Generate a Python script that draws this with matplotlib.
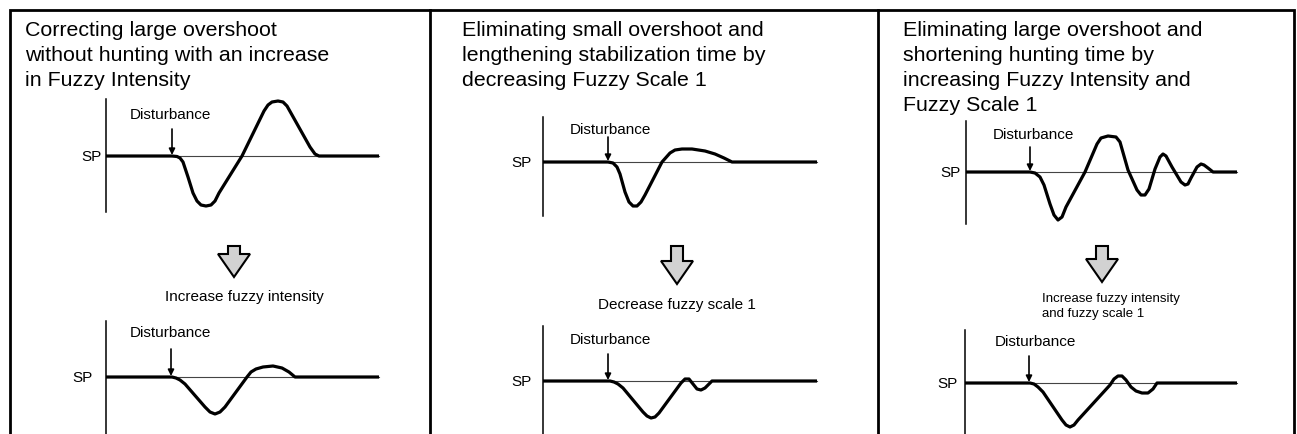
import matplotlib
matplotlib.use('Agg')
import matplotlib.pyplot as plt
from matplotlib.patches import Polygon

plt.rcParams['font.family'] = ['Liberation Sans', 'DejaVu Sans']

# panel headings
titles = [
    ['Correcting large overshoot', 'without hunting with an increase', 'in Fuzzy Intensity'],
    ['Eliminating small overshoot and', 'lengthening stabilization time by', 'decreasing Fuzzy Scale 1'],
    ['Eliminating large overshoot and', 'shortening hunting time by', 'increasing Fuzzy Intensity and', 'Fuzzy Scale 1'],
]
actions = [['Increase fuzzy intensity'], ['Decrease fuzzy scale 1'],
           ['Increase fuzzy intensity', 'and fuzzy scale 1']]

# response curves: time offset from axis (px) and deviation from SP (px, up = +)
p1_before_t = [0, 66, 71, 74, 77, 82, 87, 91, 95, 100, 105, 109, 113, 136, 158, 162, 166, 172, 177, 181, 204, 209, 213, 273]
p1_before_v = [0, 0, -0.5, -2, -6, -21, -37, -45, -49, -50, -49, -45, -37, 0, 45, 51, 54, 55, 54, 50, 9, 2, 0, 0]
p1_after_t = [0, 66, 70, 74, 79, 99, 104, 109, 114, 119, 141, 145, 150, 157, 167, 176, 183, 189, 273]
p1_after_v = [0, 0, -1, -3, -7, -30, -35, -37, -35, -30, 0, 5, 8, 10, 11, 9, 5, 0, 0]

p2_before_t = [0, 65, 70, 74, 77, 82, 86, 90, 94, 98, 102, 119, 127, 132, 139, 149, 162, 172, 181, 189, 274]
p2_before_v = [0, 0, -1, -5, -12, -30, -40, -44, -44, -40, -33, 0, 9, 12, 13, 13, 11, 8, 4, 0, 0]
p2_after_t = [0, 67, 71, 75, 80, 100, 104, 108, 112, 116, 138, 142, 146, 150, 154, 158, 162, 166, 169, 274]
p2_after_v = [0, 0, -1, -3, -7, -31, -35, -37, -36, -32, -2, 2, 2, -3, -8, -9, -7, -3, 0, 0]

p3_before_t = [0, 64, 69, 74, 78, 84, 88, 92, 96, 100, 119, 131, 135, 142, 150, 154, 162, 171, 175, 179,
               183, 189, 194, 197, 200, 206, 215, 219, 222, 225, 231, 235, 238, 242, 247, 271]
p3_before_v = [0, 0, -1, -5, -13, -32, -43, -48, -45, -35, 0, 28, 34, 36, 35, 30, 2, -18, -23, -23,
               -17, 3, 15, 18, 16, 5, -10, -13, -12, -6, 5, 8, 7, 4, 0, 0]
p3_after_t = [0, 65, 69, 73, 78, 97, 101, 105, 109, 113, 145, 149, 153, 157, 161, 166, 171, 177, 183, 188, 192, 272]
p3_after_v = [0, 0, -1, -4, -9, -37, -42, -44, -42, -37, -2, 4, 7, 7, 3, -4, -8, -10, -10, -6, 0, 0]

curves = [(p1_before_t, p1_before_v), (p1_after_t, p1_after_v),
          (p2_before_t, p2_before_v), (p2_after_t, p2_after_v),
          (p3_before_t, p3_before_v), (p3_after_t, p3_after_v)]

# layout (pixels): axis x, SP y, axis top, axis bottom, SP label x,
# disturbance label (x, y), arrow x, arrow top
plots = [
    (106, 157, 100, 213, 91, 170, 115, 172, 130),
    (106, 378, 322, 440, 82, 170, 333, 171, 350),
    (543, 163, 118, 217, 521, 610, 130, 608, 138),
    (543, 382, 327, 440, 521, 610, 340, 608, 355),
    (966, 173, 122, 225, 950, 1033, 135, 1030, 148),
    (965, 384, 331, 440, 947, 1035, 342, 1029, 357),
]
title_x = [25, 462, 903]
block_x = [234, 677, 1102]
block_tip = [278, 285, 283]

W, H = 1297, 435
fig = plt.figure(figsize=(W / 100, H / 100), dpi=100)
ax = fig.add_axes([0, 0, 1, 1])
ax.set_xlim(0, W)
ax.set_ylim(H, 0)
ax.axis('off')

# frame
ax.plot([10, 10, 1294, 1294], [440, 11, 11, 440], color='k', lw=2, solid_joinstyle='miter')
for xd in [430, 878]:
    ax.plot([xd, xd], [11, 440], color='k', lw=2)

for k, lines in enumerate(titles):
    for i, s in enumerate(lines):
        ax.text(title_x[k], 36 + 25 * i, s, fontsize=15.4, va='baseline', ha='left')

for (t, v), (x0, y0, ytop, ybot, spx, dx, dy, ax_x, ay) in zip(curves, plots):
    ax.plot([x0, x0], [ytop, ybot], color='k', lw=1.1)
    ax.plot([x0, x0 + t[-1]], [y0, y0], color='#444444', lw=0.8)
    ax.plot([x0 + ti for ti in t], [y0 - vi for vi in v], color='k', lw=2.3,
            solid_joinstyle='round', solid_capstyle='butt')
    ax.text(spx, y0, 'SP', fontsize=11, ha='center', va='center')
    ax.text(dx, dy, 'Disturbance', fontsize=11, ha='center', va='center')
    ax.annotate('', xy=(ax_x, y0 - 1), xytext=(ax_x, ay),
                arrowprops=dict(arrowstyle='-|>', lw=1.2, color='k', mutation_scale=9,
                                shrinkA=0, shrinkB=0))

# hollow block arrows between before/after
for k in range(3):
    cx, tip = block_x[k], block_tip[k]
    sw, hw, top, htop = 6, 16, 247, tip - 23
    pts = [(cx - sw, top), (cx + sw, top), (cx + sw, htop), (cx + hw, htop),
           (cx, tip), (cx - hw, htop), (cx - sw, htop)]
    ax.add_patch(Polygon(pts, closed=True, facecolor='#d2d2d2', edgecolor='k', lw=1.5))

ax.text(244, 297, actions[0][0], fontsize=11, ha='center', va='center')
ax.text(677, 305, actions[1][0], fontsize=11, ha='center', va='center')
for i, s in enumerate(actions[2]):
    ax.text(1042, 302 + 15 * i, s, fontsize=9.5, ha='left', va='baseline')

fig.savefig('out.png', dpi=100)
